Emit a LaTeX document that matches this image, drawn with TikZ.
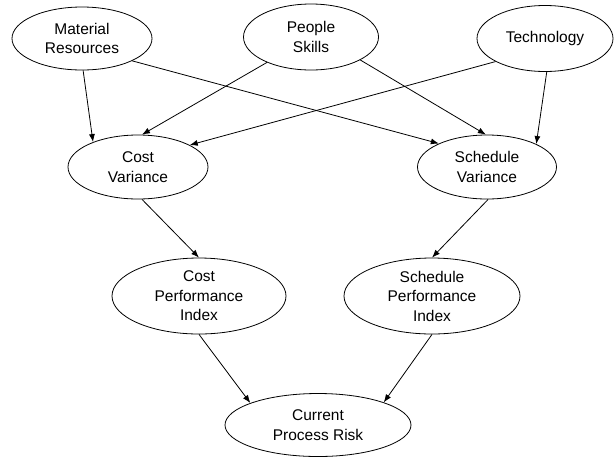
\documentclass[tikz,border=0pt]{standalone}
\usepackage{fontspec}
\setmainfont{Liberation Sans}
\usetikzlibrary{shapes.geometric,arrows.meta}
\begin{document}
\begin{tikzpicture}[x=1pt,y=-1pt,
  bubble/.style={draw, ellipse, inner sep=0pt, line width=0.8pt},
  caption/.style={align=center, font=\fontsize{15.5}{19.5}\selectfont, inner sep=0pt},
  link/.style={draw, line width=0.8pt, -{Latex[length=8pt,width=6pt]}}]
\useasboundingbox (0,0) rectangle (615,456);

% resources
\node[bubble, minimum width=140pt, minimum height=63pt] (mat) at (82,38.5) {};
\node[caption] (matt) at (mat) {Material\\Resources};
\node[bubble, minimum width=135pt, minimum height=66pt] (ppl) at (311,37) {};
\node[caption] (pplt) at (ppl) {People\\Skills};
\node[bubble, minimum width=136pt, minimum height=66pt] (tec) at (545,38.5) {};
\node[caption] (tect) at (tec) {Technology};

% variances
\node[bubble, minimum width=140pt, minimum height=64pt] (cv) at (138,167) {};
\node[caption] (cvt) at (cv) {Cost\\Variance};
\node[bubble, minimum width=139pt, minimum height=64pt] (sv) at (487,167) {};
\node[caption] (svt) at (sv) {Schedule\\Variance};

% indices
\node[bubble, minimum width=174pt, minimum height=76pt] (cpi) at (199,296) {};
\node[caption] (cpit) at (cpi) {Cost\\Performance\\Index};
\node[bubble, minimum width=176pt, minimum height=76pt] (spi) at (432,296) {};
\node[caption] (spit) at (spi) {Schedule\\Performance\\Index};

% overall risk
\node[bubble, minimum width=186pt, minimum height=63pt] (risk) at (318,425) {};
\node[caption] (riskt) at (risk) {Current\\Process Risk};

% influences
\draw[link] (mat.-88) -- (cv.151);
\draw[link] (mat.-24) -- (sv.154);
\draw[link] (ppl.210) -- (cv.83);
\draw[link] (ppl.-25) -- (sv.92);
\draw[link] (tec.205) -- (cv.23);
\draw[link] (tec.-87) -- (sv.25);
\draw[link] (cv.-83) -- (cpi.90);
\draw[link] (sv.-88) -- (spi.90);
\draw[link] (cpi.-90) -- (risk.162);
\draw[link] (spi.-90) -- (risk.19);
\end{tikzpicture}
\end{document}
